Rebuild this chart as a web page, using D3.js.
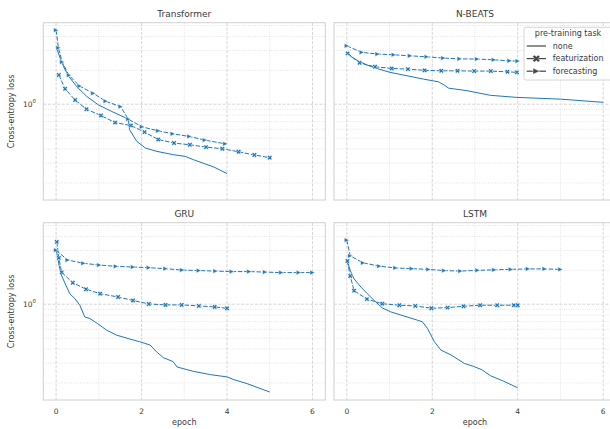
<!DOCTYPE html>
<html>
<head>
<meta charset="utf-8">
<script src="https://cdn.jsdelivr.net/npm/d3@7"></script>
<style>
  body { margin: 0; background: #fff; }
  svg { display: block; font-family: "DejaVu Sans", sans-serif; }
</style>
</head>
<body>
<div id="chart"></div>
<script>
// model names (panel order) and pre-training tasks
const models = ["Transformer", "N-BEATS", "GRU", "LSTM"];
const tasks = ["none", "featurization", "forecasting"];

// [epoch, cross-entropy loss]
const transformerNone = [[0, 3.28], [0.094, 2.57], [0.19, 2.10], [0.29, 1.78], [0.485, 1.43], [0.72, 1.17],
  [0.99, 0.986], [1.31, 0.86], [1.5, 0.796], [1.69, 0.737], [1.72, 0.593], [1.89, 0.467], [2.09, 0.408],
  [2.36, 0.381], [2.75, 0.356], [3.02, 0.344], [3.22, 0.321], [3.69, 0.277], [4.0, 0.242]];
const transformerFeat = [[0.063, 1.82], [0.21, 1.37], [0.445, 1.09], [0.71, 0.903], [1.05, 0.793], [1.38, 0.687],
  [1.75, 0.647], [2.07, 0.565], [2.39, 0.486], [2.76, 0.452], [3.13, 0.436], [3.51, 0.416], [3.89, 0.402],
  [4.27, 0.378], [4.64, 0.354], [5.0, 0.335]];
const transformerFore = [[0, 4.55], [0.054, 3.17], [0.14, 2.37], [0.3, 1.81], [0.55, 1.45], [0.87, 1.25],
  [1.16, 1.063], [1.51, 0.952], [1.69, 0.737], [2.01, 0.63], [2.39, 0.58], [2.73, 0.546], [3.12, 0.517],
  [3.48, 0.48], [3.96, 0.445]];

const nbeatsNone = [[0, 2.85], [0.155, 2.55], [0.47, 2.23], [0.7, 2.08], [1.01, 1.92], [1.41, 1.79], [1.8, 1.67],
  [2.15, 1.58], [2.28, 1.48], [2.38, 1.39], [2.81, 1.32], [3.36, 1.2], [3.98, 1.15], [5.0, 1.11], [6.0, 1.04]];
const nbeatsFeat = [[0.02, 2.83], [0.3, 2.33], [0.66, 2.15], [1.05, 2.08], [1.43, 2.05], [1.82, 2.0], [2.21, 1.98],
  [2.59, 1.98], [2.98, 1.97], [3.37, 1.97], [3.76, 1.94], [3.98, 1.92]];
const nbeatsFore = [[0, 3.3], [0.35, 2.89], [0.72, 2.79], [1.1, 2.75], [1.48, 2.69], [1.87, 2.64], [2.26, 2.57],
  [2.64, 2.53], [3.05, 2.52], [3.44, 2.48], [3.81, 2.43], [4.0, 2.42]];

const gruNone = [[0.007, 3.0], [0.07, 2.21], [0.124, 1.81], [0.23, 1.47], [0.32, 1.24], [0.44, 1.12], [0.555, 0.98],
  [0.67, 0.772], [0.79, 0.746], [0.97, 0.673], [1.18, 0.589], [1.41, 0.532], [1.73, 0.49], [1.96, 0.464],
  [2.2, 0.434], [2.35, 0.378], [2.51, 0.335], [2.74, 0.309], [2.83, 0.277], [3.22, 0.253], [3.61, 0.237],
  [4.0, 0.226], [4.16, 0.214], [4.47, 0.197], [5.0, 0.166]];
const gruFeat = [[0.016, 3.58], [0.064, 2.58], [0.13, 1.92], [0.39, 1.55], [0.7, 1.36], [1.03, 1.24], [1.45, 1.16],
  [1.8, 1.08], [2.17, 1.006], [2.56, 0.986], [2.94, 0.986], [3.34, 0.966], [3.71, 0.946], [4.0, 0.92]];
const gruFore = [[0, 3.02], [0.27, 2.47], [0.64, 2.31], [1.01, 2.23], [1.4, 2.17], [1.8, 2.14], [2.17, 2.11],
  [2.56, 2.07], [2.95, 2.01], [3.34, 1.99], [3.73, 1.97], [4.11, 1.95], [4.52, 1.95], [4.89, 1.93],
  [5.27, 1.91], [5.68, 1.91], [6.0, 1.91]];

const lstmNone = [[0.014, 2.4], [0.08, 2.0], [0.17, 1.68], [0.33, 1.42], [0.48, 1.24], [0.64, 1.08], [0.83, 0.927],
  [1.03, 0.855], [1.27, 0.8], [1.46, 0.761], [1.65, 0.722], [1.77, 0.697], [1.89, 0.608], [2.05, 0.464],
  [2.2, 0.392], [2.44, 0.354], [2.75, 0.298], [2.97, 0.28], [3.16, 0.262], [3.36, 0.232], [3.67, 0.207],
  [4.0, 0.181]];
const lstmFeat = [[0.014, 2.42], [0.08, 1.78], [0.17, 1.32], [0.47, 1.11], [0.83, 1.01], [1.23, 0.98], [1.6, 0.966],
  [1.98, 0.922], [2.36, 0.933], [2.73, 0.959], [3.12, 0.98], [3.52, 0.98], [3.91, 0.98], [4.0, 0.98]];
const lstmFore = [[0, 3.71], [0.08, 2.69], [0.38, 2.33], [0.76, 2.18], [1.14, 2.1], [1.52, 2.07], [1.91, 2.04],
  [2.28, 1.99], [2.66, 1.97], [3.06, 2.0], [3.45, 2.02], [3.84, 2.04], [4.24, 2.06], [4.63, 2.06], [5.0, 2.04]];

const series = {
  "Transformer": [transformerNone, transformerFeat, transformerFore],
  "N-BEATS": [nbeatsNone, nbeatsFeat, nbeatsFore],
  "GRU": [gruNone, gruFeat, gruFore],
  "LSTM": [lstmNone, lstmFeat, lstmFore]
};

const xMajor = [0, 2, 4, 6];
const xMinor = [1, 3, 5];
const yMajor = [1];
const yMinor = [0.2, 0.3, 0.4, 0.5, 0.6, 0.7, 0.8, 0.9, 2, 3, 4, 5];

// ---- layout
const W = 610, H = 429;
const blue = "#1f77b4", ink = "#3a3a3a";
const pw = 282, ph = 177.3;
const colX = [43.3, 334], rowY = [22.7, 222.7];

const svg = d3.select("#chart").append("svg")
  .attr("width", W).attr("height", H);

const x = d3.scaleLinear().domain([-0.3, 6.3]).range([0, pw]);
const y = d3.scaleLog().domain([0.141, 5.3]).range([ph, 0]);

const line = d3.line().x(d => x(d[0])).y(d => y(d[1]));

const triPath = r => `M${r},0L${-r},${-r * 0.95}L${-r},${r * 0.95}Z`;
const xSym = d3.symbol().type(d3.symbolCross).size(15);

models.forEach((m, i) => {
  const col = i % 2, row = Math.floor(i / 2);
  const g = svg.append("g").attr("transform", `translate(${colX[col]},${rowY[row]})`);

  g.append("clipPath").attr("id", "clip" + i)
    .append("rect").attr("width", pw).attr("height", ph);

  // grid
  g.selectAll(".xminor").data(xMinor).enter().append("line")
    .attr("x1", d => x(d)).attr("x2", d => x(d)).attr("y1", 0).attr("y2", ph)
    .attr("stroke", "#d9d9d9").attr("stroke-width", 0.7).attr("stroke-dasharray", "1,1.3");
  g.selectAll(".yminor").data(yMinor).enter().append("line")
    .attr("x1", 0).attr("x2", pw).attr("y1", d => y(d)).attr("y2", d => y(d))
    .attr("stroke", "#d9d9d9").attr("stroke-width", 0.7).attr("stroke-dasharray", "1,1.3");
  g.selectAll(".xmajor").data(xMajor).enter().append("line")
    .attr("x1", d => x(d)).attr("x2", d => x(d)).attr("y1", 0).attr("y2", ph)
    .attr("stroke", "#cccccc").attr("stroke-width", 0.8).attr("stroke-dasharray", "3,1.6");
  g.selectAll(".ymajor").data(yMajor).enter().append("line")
    .attr("x1", 0).attr("x2", pw).attr("y1", d => y(d)).attr("y2", d => y(d))
    .attr("stroke", "#cccccc").attr("stroke-width", 0.8).attr("stroke-dasharray", "3,1.6");

  // spines
  g.append("rect").attr("width", pw).attr("height", ph)
    .attr("fill", "none").attr("stroke", "#d0d0d0").attr("stroke-width", 1);

  const plot = g.append("g").attr("clip-path", `url(#clip${i})`);
  const [none, feat, fore] = series[m];

  plot.append("path").datum(none).attr("d", line)
    .attr("fill", "none").attr("stroke", blue).attr("stroke-width", 1);
  plot.append("path").datum(feat).attr("d", line)
    .attr("fill", "none").attr("stroke", blue).attr("stroke-width", 1).attr("stroke-dasharray", "4.5,1.7");
  plot.append("path").datum(fore).attr("d", line)
    .attr("fill", "none").attr("stroke", blue).attr("stroke-width", 1).attr("stroke-dasharray", "4.5,1.7");

  plot.selectAll(".mx").data(feat).enter().append("path")
    .attr("d", xSym)
    .attr("transform", d => `translate(${x(d[0])},${y(d[1])}) rotate(45)`)
    .attr("fill", blue).attr("stroke", "#fff").attr("stroke-width", 0.5);
  plot.selectAll(".mt").data(fore).enter().append("path")
    .attr("d", triPath(2.5))
    .attr("transform", d => `translate(${x(d[0])},${y(d[1])})`)
    .attr("fill", blue).attr("stroke", "#fff").attr("stroke-width", 0.5);

  // title
  g.append("text").attr("x", pw / 2).attr("y", -6)
    .attr("text-anchor", "middle").attr("font-size", 9).attr("fill", ink).text(m);

  if (col === 0) {
    const t = g.append("text").attr("x", -7.5).attr("y", y(1) + 2.7)
      .attr("text-anchor", "end").attr("font-size", 7.5).attr("fill", ink);
    t.append("tspan").text("10");
    t.append("tspan").attr("dy", -3.5).attr("font-size", 5.3).text("0");
    g.append("text")
      .attr("transform", `translate(${-29},${ph / 2}) rotate(-90)`)
      .attr("text-anchor", "middle").attr("font-size", 8).attr("fill", ink)
      .text("Cross-entropy loss");
  }
  if (row === 1) {
    g.selectAll(".xt").data(xMajor).enter().append("text")
      .attr("x", d => x(d)).attr("y", ph + 13.8)
      .attr("text-anchor", "middle").attr("font-size", 7.5).attr("fill", ink)
      .text(d => d);
    g.append("text").attr("x", pw / 2).attr("y", ph + 25)
      .attr("text-anchor", "middle").attr("font-size", 8).attr("fill", ink).text("epoch");
  }
});

// ---- legend
const lg = svg.append("g").attr("transform", "translate(524,27.3)");
lg.append("rect").attr("width", 100).attr("height", 52.7).attr("rx", 2)
  .attr("fill", "#fff").attr("fill-opacity", 0.8).attr("stroke", "#cccccc").attr("stroke-width", 0.8);
lg.append("text").attr("x", 44).attr("y", 8.9)
  .attr("text-anchor", "middle").attr("font-size", 8).attr("fill", ink).text("pre-training task");
tasks.forEach((t, k) => {
  const yy = 18.7 + k * 12.6;
  lg.append("line").attr("x1", 2.7).attr("x2", 22).attr("y1", yy).attr("y2", yy)
    .attr("stroke", "#444").attr("stroke-width", 1.2);
  if (k === 1) {
    lg.append("path").attr("d", d3.symbol().type(d3.symbolCross).size(34))
      .attr("transform", `translate(12.3,${yy}) rotate(45)`)
      .attr("fill", "#444").attr("stroke", "#fff").attr("stroke-width", 0.5);
  }
  if (k === 2) {
    lg.append("path").attr("d", triPath(3.3))
      .attr("transform", `translate(12.3,${yy})`)
      .attr("fill", "#444").attr("stroke", "#fff").attr("stroke-width", 0.5);
  }
  lg.append("text").attr("x", 28.7).attr("y", yy + 2.8)
    .attr("font-size", 8).attr("fill", ink).text(t);
});
</script>
</body>
</html>
